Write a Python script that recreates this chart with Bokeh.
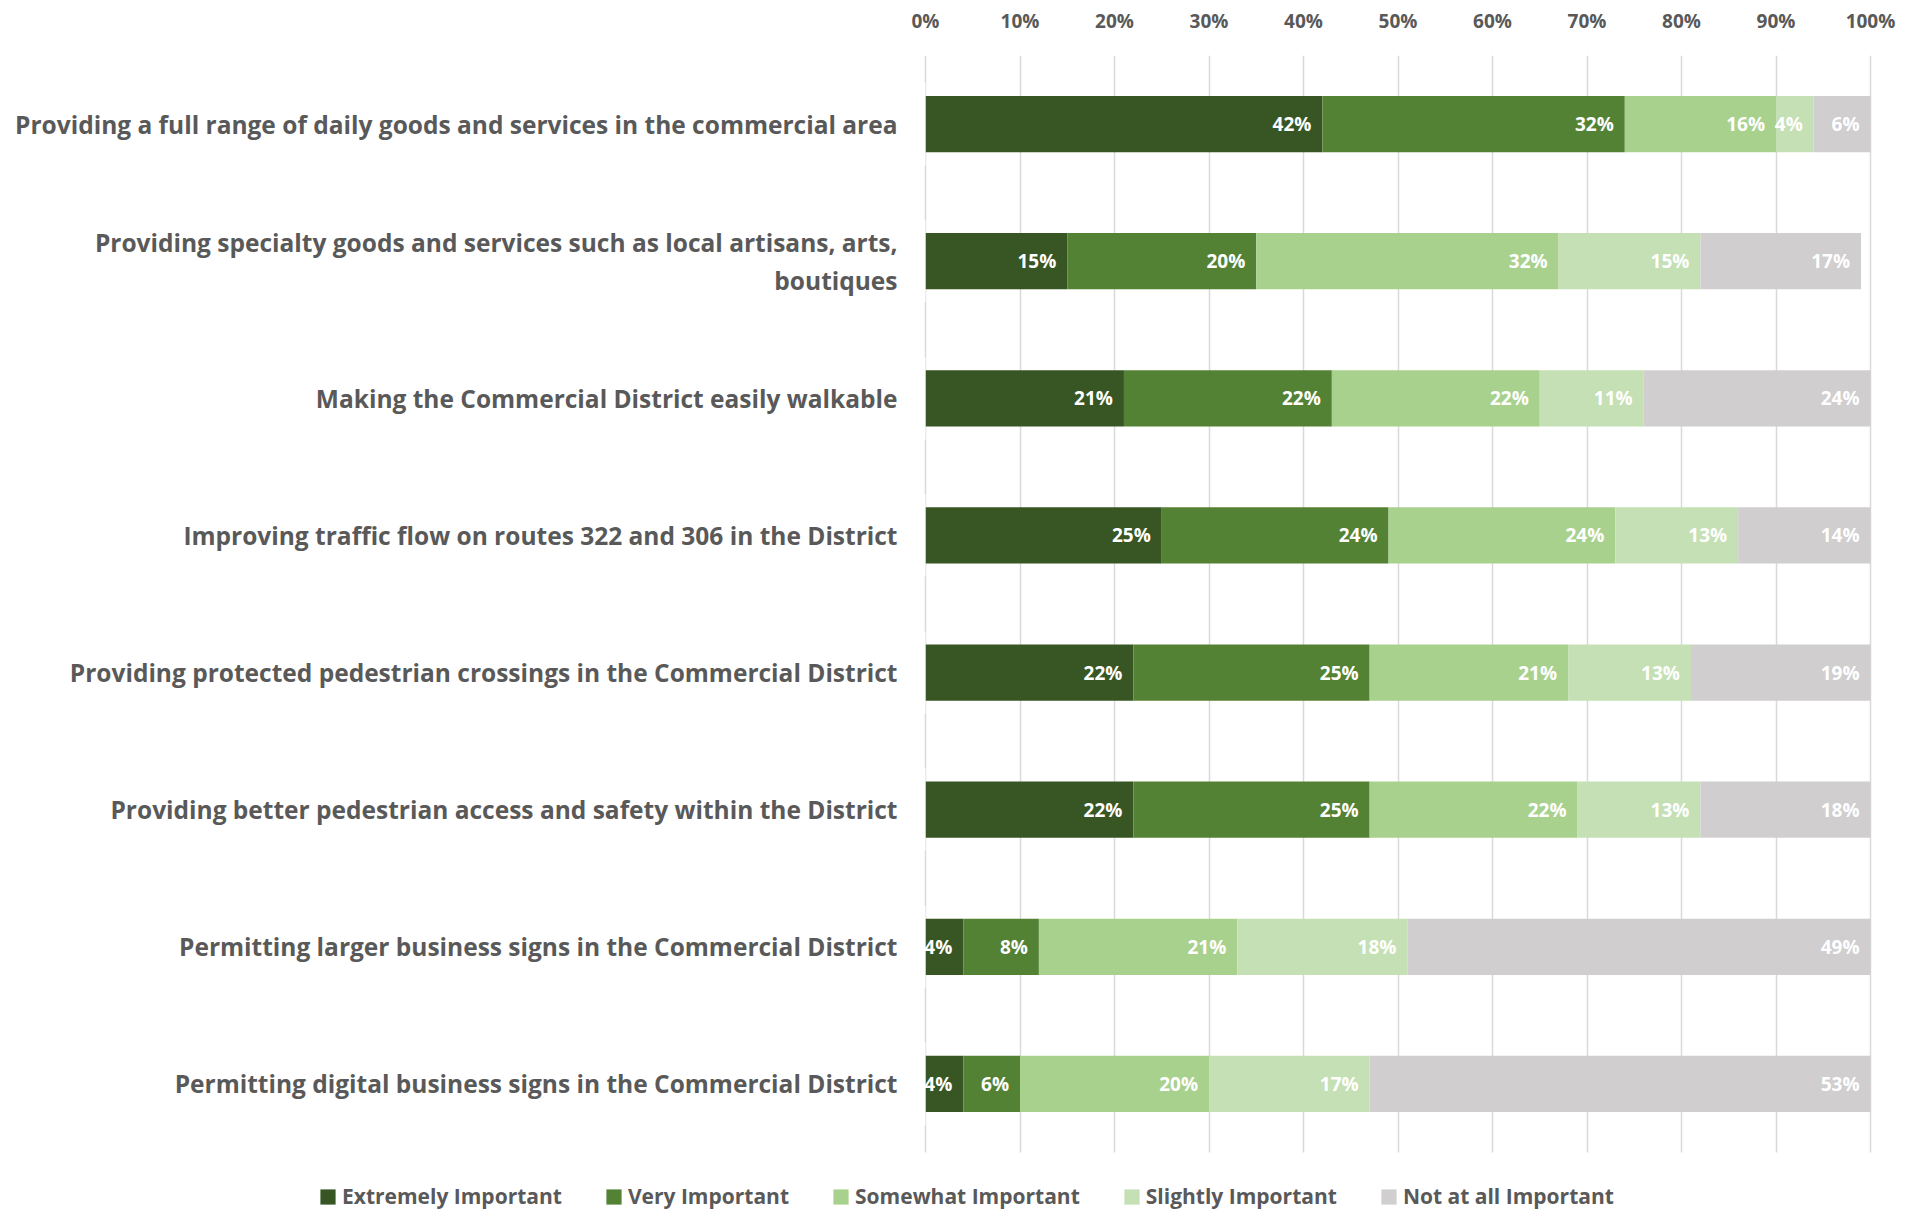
from bokeh.plotting import figure
from bokeh.models import (ColumnDataSource, Range1d, FixedTicker, PrintfTickFormatter,
                          Legend, LegendItem)
from bokeh.core.properties import value
from bokeh.embed import file_html
from bokeh.resources import INLINE

categories = [
    "Providing a full range of daily goods and services in the commercial area",
    "Providing specialty goods and services such as local artisans, arts,\nboutiques",
    "Making the Commercial District easily walkable",
    "Improving traffic flow on routes 322 and 306 in the District",
    "Providing protected pedestrian crossings in the Commercial District",
    "Providing better pedestrian access and safety within the District",
    "Permitting larger business signs in the Commercial District",
    "Permitting digital business signs in the Commercial District",
]
series_names = ["Extremely Important", "Very Important", "Somewhat Important",
                "Slightly Important", "Not at all Important"]
extremely = [42, 15, 21, 25, 22, 22, 4, 4]
very = [32, 20, 22, 24, 25, 25, 8, 6]
somewhat = [16, 32, 22, 24, 21, 22, 21, 20]
slightly = [4, 15, 11, 13, 13, 13, 18, 17]
not_at_all = [6, 17, 24, 14, 19, 18, 49, 53]
x_ticks = [0, 10, 20, 30, 40, 50, 60, 70, 80, 90, 100]

colors = ["#375623", "#548235", "#A9D18E", "#C5E0B4", "#D0CECE"]
series = [extremely, very, somewhat, slightly, not_at_all]

FONT = "Open Sans"
GRAY = "#595959"

# pixel layout
W, H = 1897, 1210
TOP = 55                 # top of plotting area (below the % axis)
X0_PX, X100_PX = 925, 1870   # where 0% and 100% sit
ROWS_BOTTOM_PX = 1152    # bottom of the bar area (grid lines end here)
n = len(categories)
ppu_x = (X100_PX - X0_PX) / 100.0
row_px = (ROWS_BOTTOM_PX - TOP) / n
x_range = Range1d(-X0_PX / ppu_x, 100 + (W - X100_PX) / ppu_x)
y_range = Range1d(-(H - ROWS_BOTTOM_PX) / row_px, n)

ypos = [n - 0.5 - i for i in range(n)]

p = figure(width=W, height=H, output_backend="svg", toolbar_location=None,
           x_range=x_range, y_range=y_range, x_axis_location="above",
           min_border_left=0, min_border_right=0, min_border_top=TOP, min_border_bottom=0)
p.outline_line_color = None
p.background_fill_color = "white"
p.yaxis.visible = False

# grid (only over the bar area)
p.ygrid.grid_line_color = None
p.xgrid.grid_line_color = "#D9D9D9"
p.xgrid.grid_line_width = 1.5
p.xgrid.ticker = FixedTicker(ticks=x_ticks)
p.xgrid.cross_bounds = (0, n)

renderers = []
left = [0] * n
for name, vals, col in zip(series_names, series, colors):
    right = [l + v for l, v in zip(left, vals)]
    src = ColumnDataSource(dict(y=ypos, left=left, right=right,
                                lab=[f"{v}%" for v in vals]))
    r = p.hbar(y="y", left="left", right="right", height=0.41, source=src,
               fill_color=col, line_color=None)
    renderers.append((name, r))
    p.text(x="right", y="y", text="lab", source=src, text_align="right",
           text_baseline="middle", x_offset=-11, text_color="white",
           text_font=value(FONT), text_font_style="bold", text_font_size="19px")
    left = right

# white mask so that value labels do not spill left of 0%,
# category labels drawn on top of it
cat_src = ColumnDataSource(dict(y=ypos, x=[0] * n, t=categories))
p.hbar(y="y", left=x_range.start, right=0, height=0.6, source=cat_src,
       fill_color="white", line_color=None)
p.text(x="x", y="y", text="t", source=cat_src, text_align="right",
       text_baseline="middle", x_offset=-28, text_color=GRAY,
       text_font=value(FONT), text_font_style="bold", text_font_size="24.5px",
       text_line_height=1.15)

xa = p.xaxis[0]
xa.ticker = FixedTicker(ticks=x_ticks)
xa.formatter = PrintfTickFormatter(format="%d%%")
xa.axis_line_color = None
xa.major_tick_line_color = None
xa.minor_tick_line_color = None
xa.major_tick_out = 0
xa.major_label_standoff = 22
xa.major_label_text_font = FONT
xa.major_label_text_font_style = "bold"
xa.major_label_text_font_size = "19px"
xa.major_label_text_color = GRAY

legend = Legend(items=[LegendItem(label=nm, renderers=[r]) for nm, r in renderers],
                orientation="horizontal", location=(X0_PX - 607, 0),
                glyph_width=19, glyph_height=19, label_standoff=5, spacing=42,
                padding=0, margin=0, border_line_color=None, background_fill_alpha=0,
                label_text_font=FONT, label_text_font_style="bold",
                label_text_font_size="21px", label_text_color=GRAY)
p.add_layout(legend, "center")

open("out.html", "w").write(file_html(p, INLINE))
